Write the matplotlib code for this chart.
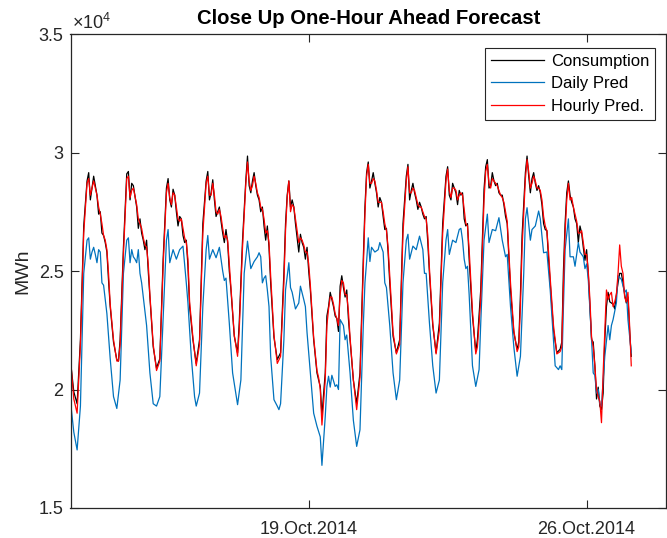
import matplotlib
matplotlib.use("Agg")
import matplotlib.pyplot as plt
import matplotlib.dates as mdates
from matplotlib.ticker import FixedLocator
from datetime import datetime, timedelta

plt.rcParams['font.family'] = ['Liberation Sans', 'DejaVu Sans']
plt.rcParams['mathtext.fontset'] = 'custom'
plt.rcParams['mathtext.rm'] = 'Liberation Sans'
plt.rcParams['mathtext.it'] = 'Liberation Sans:italic'

# ---------------- data (values in units of 1e4 MWh) ----------------
start_date = datetime(2014, 10, 13)

# hours since start for consumption and hourly prediction
hours_ch = [0, 2, 4, 6, 8, 10, 11, 12, 14, 16, 17, 18, 19, 20, 21, 22, 23,
            24, 26, 28, 29, 30, 32, 34, 35, 36, 37, 38, 40, 41, 42, 43, 44, 45, 46, 47,
            48, 50, 52, 54, 56, 58, 59, 60, 61, 62, 63, 64, 65, 66, 67, 68, 69, 70, 71,
            72, 74, 76, 78, 80, 82, 83, 84, 85, 86, 87, 88, 89, 90, 91, 92, 93, 94, 95,
            96, 97, 99, 101, 102, 104, 106, 107, 108, 109, 110, 111, 112, 113, 114, 115, 116, 117, 118, 119,
            120, 121, 123, 125, 127, 129, 130, 131, 132, 133, 134, 135, 136, 137, 138, 139, 140, 141, 142, 143,
            144, 145, 147, 149, 150, 151, 152, 154, 155, 156, 157, 158, 159, 160, 161, 162, 163, 164, 165, 166, 167,
            168, 169, 171, 173, 175, 177, 178, 179, 180, 181, 182, 183, 184, 185, 186, 187, 188, 189, 190, 191,
            192, 193, 195, 197, 199, 201, 203, 204, 205, 206, 207, 208, 209, 210, 211, 212, 213, 214, 215,
            216, 217, 219, 221, 223, 225, 227, 228, 229, 230, 231, 232, 233, 234, 235, 236, 237, 238, 239,
            240, 241, 243, 245, 246, 248, 250, 251, 252, 253, 254, 255, 256, 257, 258, 259, 260, 261, 262, 263,
            264, 266, 268, 270, 271, 272, 273, 275, 276, 277, 278, 279, 280, 281, 282, 283, 284, 285, 286, 287,
            288, 289, 290, 292, 294, 296, 297, 298, 299, 300, 301, 302, 303, 304, 305, 306, 307, 308, 309, 310, 311,
            312, 313, 314, 315, 316, 317, 318, 319, 320, 321, 322, 323, 324, 325, 326, 327, 328, 329, 330, 331,
            332, 333, 334, 335, 336, 337, 338, 339]

consumption = [2.12, 1.99, 1.94, 2.21, 2.69, 2.88, 2.915, 2.80, 2.90, 2.82, 2.74, 2.75, 2.66, 2.65, 2.62, 2.58, 2.46,
               2.35, 2.20, 2.126, 2.12, 2.21, 2.60, 2.91, 2.92, 2.80, 2.87, 2.86, 2.77, 2.68, 2.72, 2.66, 2.63, 2.59, 2.63, 2.50,
               2.39, 2.18, 2.09, 2.13, 2.55, 2.85, 2.89, 2.80, 2.77, 2.845, 2.82, 2.75, 2.69, 2.73, 2.72, 2.65, 2.62, 2.63, 2.52,
               2.35, 2.21, 2.11, 2.21, 2.70, 2.88, 2.92, 2.80, 2.83, 2.885, 2.80, 2.73, 2.75, 2.77, 2.71, 2.66, 2.62, 2.675, 2.62,
               2.50, 2.42, 2.225, 2.155, 2.28, 2.63, 2.885, 2.985, 2.86, 2.83, 2.88, 2.915, 2.86, 2.82, 2.80, 2.75, 2.77, 2.69, 2.63, 2.69,
               2.60, 2.45, 2.22, 2.126, 2.155, 2.49, 2.70, 2.82, 2.88, 2.77, 2.80, 2.77, 2.70, 2.64, 2.58, 2.655, 2.62, 2.60, 2.55, 2.60,
               2.50, 2.42, 2.21, 2.07, 2.04, 2.013, 1.89, 2.07, 2.31, 2.35, 2.41, 2.38, 2.35, 2.31, 2.30, 2.245, 2.436, 2.48, 2.43, 2.39, 2.42,
               2.30, 2.21, 2.04, 1.94, 2.07, 2.55, 2.77, 2.915, 2.96, 2.85, 2.88, 2.915, 2.87, 2.83, 2.77, 2.81, 2.79, 2.73, 2.675, 2.68,
               2.58, 2.45, 2.225, 2.155, 2.21, 2.70, 2.90, 2.95, 2.80, 2.84, 2.87, 2.83, 2.80, 2.76, 2.79, 2.77, 2.74, 2.72, 2.73,
               2.62, 2.49, 2.27, 2.155, 2.28, 2.70, 2.90, 2.94, 2.82, 2.80, 2.87, 2.85, 2.83, 2.78, 2.84, 2.82, 2.83, 2.72, 2.69,
               2.70, 2.55, 2.31, 2.16, 2.21, 2.42, 2.845, 2.94, 2.97, 2.85, 2.86, 2.915, 2.88, 2.86, 2.87, 2.83, 2.82, 2.82, 2.78, 2.73,
               2.70, 2.42, 2.24, 2.17, 2.20, 2.40, 2.65, 2.915, 2.985, 2.90, 2.83, 2.89, 2.915, 2.87, 2.84, 2.86, 2.83, 2.78, 2.70, 2.675,
               2.67, 2.55, 2.45, 2.25, 2.155, 2.17, 2.20, 2.50, 2.70, 2.83, 2.88, 2.82, 2.79, 2.77, 2.72, 2.70, 2.62, 2.69, 2.66, 2.60, 2.545,
               2.59, 2.49, 2.35, 2.21, 2.20, 2.10, 1.96, 2.01, 1.93, 1.915, 1.985, 2.21, 2.35, 2.41, 2.37, 2.365, 2.36, 2.34, 2.40, 2.45,
               2.49, 2.49, 2.45, 2.40, 2.365, 2.39, 2.25, 2.14]

hourly_pred = [2.13, 1.96, 1.90, 2.19, 2.66, 2.87, 2.89, 2.82, 2.88, 2.82, 2.77, 2.74, 2.70, 2.65, 2.63, 2.59, 2.49,
               2.36, 2.21, 2.12, 2.12, 2.19, 2.57, 2.89, 2.90, 2.81, 2.84, 2.85, 2.78, 2.72, 2.70, 2.68, 2.64, 2.61, 2.60, 2.53,
               2.40, 2.19, 2.08, 2.12, 2.52, 2.83, 2.87, 2.81, 2.78, 2.83, 2.82, 2.77, 2.72, 2.71, 2.72, 2.68, 2.64, 2.62, 2.55,
               2.37, 2.22, 2.10, 2.19, 2.66, 2.87, 2.90, 2.82, 2.82, 2.87, 2.82, 2.75, 2.74, 2.76, 2.73, 2.68, 2.64, 2.65, 2.63,
               2.53, 2.43, 2.23, 2.14, 2.25, 2.60, 2.87, 2.96, 2.88, 2.84, 2.86, 2.90, 2.87, 2.83, 2.81, 2.77, 2.76, 2.72, 2.66, 2.67,
               2.62, 2.48, 2.23, 2.11, 2.14, 2.45, 2.67, 2.81, 2.88, 2.75, 2.78, 2.77, 2.72, 2.67, 2.62, 2.64, 2.63, 2.61, 2.58, 2.58,
               2.53, 2.44, 2.22, 2.08, 2.05, 2.00, 1.85, 2.04, 2.27, 2.34, 2.39, 2.39, 2.36, 2.32, 2.30, 2.27, 2.40, 2.46, 2.45, 2.40, 2.40,
               2.33, 2.22, 2.04, 1.915, 2.05, 2.50, 2.74, 2.90, 2.95, 2.87, 2.87, 2.89, 2.88, 2.84, 2.79, 2.79, 2.79, 2.75, 2.70, 2.67,
               2.60, 2.48, 2.24, 2.15, 2.19, 2.66, 2.88, 2.94, 2.83, 2.83, 2.85, 2.84, 2.81, 2.78, 2.77, 2.77, 2.75, 2.73, 2.72,
               2.65, 2.51, 2.28, 2.15, 2.25, 2.66, 2.88, 2.93, 2.84, 2.81, 2.85, 2.85, 2.84, 2.80, 2.82, 2.83, 2.82, 2.76, 2.70,
               2.69, 2.59, 2.33, 2.15, 2.18, 2.38, 2.80, 2.92, 2.95, 2.87, 2.85, 2.89, 2.88, 2.87, 2.86, 2.84, 2.82, 2.81, 2.79, 2.75,
               2.71, 2.45, 2.25, 2.16, 2.18, 2.35, 2.60, 2.89, 2.97, 2.92, 2.85, 2.87, 2.90, 2.88, 2.85, 2.85, 2.84, 2.80, 2.73, 2.69,
               2.67, 2.58, 2.47, 2.27, 2.15, 2.16, 2.18, 2.44, 2.66, 2.80, 2.87, 2.80, 2.81, 2.77, 2.74, 2.71, 2.66, 2.66, 2.67, 2.62, 2.57,
               2.57, 2.50, 2.38, 2.22, 2.18, 2.10, 2.00, 1.97, 1.95, 1.86, 2.07, 2.25, 2.42, 2.38, 2.40, 2.41, 2.35, 2.37, 2.40, 2.49,
               2.61, 2.52, 2.49, 2.39, 2.37, 2.41, 2.27, 2.10]

# hours since start for the daily prediction
hours_daily = [0, 2, 4, 6, 8, 10, 11, 12, 13, 14, 15, 16, 17, 18, 19, 20, 22,
               24, 26, 28, 30, 32, 34, 35, 36, 37, 38, 39, 40, 41, 42, 43, 44, 46,
               48, 50, 52, 54, 56, 58, 59, 60, 62, 64, 66, 68, 70, 71,
               73, 75, 76, 78, 80, 82, 83, 84, 86, 88, 90, 92, 93, 94,
               96, 98, 101, 103, 105, 107, 109, 111, 113, 114, 115, 116, 117, 118, 119,
               120, 121, 123, 125, 126, 127, 129, 130, 132, 133, 134, 136, 138, 139, 141, 142, 143,
               145, 147, 149, 151, 152, 154, 155, 156, 157, 158, 160, 161, 162, 163, 165, 166, 167,
               169, 171, 173, 175, 177, 178, 179, 180, 181, 182, 184, 186, 187, 189, 190, 191,
               193, 195, 197, 199, 201, 203, 204, 205, 207, 209, 211, 213, 214, 215,
               217, 219, 221, 223, 225, 227, 228, 229, 231, 233, 235, 236, 237, 238, 239,
               240, 241, 243, 245, 247, 248, 250, 252, 253, 255, 257, 259, 261, 263,
               264, 266, 268, 270, 272, 274, 275, 276, 278, 279, 281, 283, 284, 286,
               288, 290, 292, 293, 295, 296, 297, 298, 299, 301, 302, 304, 305, 307, 308, 310, 311,
               312, 313, 315, 316, 317, 318, 319, 320, 321, 322, 323, 325, 326, 327, 328, 330, 331,
               333, 335, 336, 337, 339]

daily_pred = [1.95, 1.82, 1.745, 1.93, 2.49, 2.63, 2.64, 2.55, 2.58, 2.60, 2.57, 2.535, 2.59, 2.58, 2.45, 2.44, 2.32,
              2.13, 1.97, 1.92, 2.04, 2.49, 2.63, 2.64, 2.535, 2.59, 2.56, 2.55, 2.535, 2.59, 2.49, 2.45, 2.39, 2.27,
              2.07, 1.94, 1.93, 1.97, 2.30, 2.63, 2.675, 2.535, 2.59, 2.55, 2.59, 2.605, 2.45, 2.365,
              2.14, 1.97, 1.93, 1.985, 2.35, 2.59, 2.65, 2.55, 2.59, 2.556, 2.60, 2.50, 2.46, 2.47,
              2.28, 2.07, 1.936, 2.04, 2.49, 2.626, 2.51, 2.54, 2.56, 2.577, 2.56, 2.45, 2.47, 2.48, 2.42,
              2.35, 2.14, 1.957, 1.93, 1.915, 1.94, 2.21, 2.42, 2.535, 2.43, 2.41, 2.34, 2.365, 2.436, 2.38, 2.35, 2.24,
              2.07, 1.90, 1.845, 1.80, 1.68, 1.886, 2.013, 2.056, 2.01, 2.06, 2.013, 2.02, 2.00, 2.295, 2.27, 2.21, 2.23,
              2.07, 1.87, 1.76, 1.83, 2.27, 2.45, 2.54, 2.64, 2.54, 2.60, 2.58, 2.59, 2.62, 2.58, 2.45, 2.43,
              2.27, 2.07, 1.957, 2.04, 2.45, 2.63, 2.655, 2.55, 2.605, 2.59, 2.647, 2.59, 2.49, 2.49,
              2.28, 2.10, 1.985, 2.04, 2.45, 2.63, 2.675, 2.57, 2.63, 2.62, 2.675, 2.68, 2.63, 2.55, 2.51,
              2.52, 2.40, 2.10, 2.013, 2.084, 2.28, 2.63, 2.74, 2.62, 2.675, 2.67, 2.725, 2.63, 2.56,
              2.57, 2.35, 2.18, 2.056, 2.14, 2.49, 2.72, 2.767, 2.63, 2.675, 2.69, 2.753, 2.72, 2.577,
              2.58, 2.42, 2.21, 2.10, 2.084, 2.10, 2.084, 2.35, 2.59, 2.72, 2.56, 2.56, 2.52, 2.62, 2.58, 2.56, 2.51,
              2.53, 2.465, 2.21, 2.07, 2.06, 1.985, 2.00, 1.94, 1.93, 2.04, 2.14, 2.27, 2.21, 2.27, 2.295, 2.365, 2.48,
              2.465, 2.41, 2.42, 2.295, 2.155]

tick_dates = [datetime(2014, 10, 19), datetime(2014, 10, 26)]
tick_labels = ['19.Oct.2014', '26.Oct.2014']
y_ticks = [1.5, 2, 2.5, 3, 3.5]
y_tick_labels = ['1.5', '2', '2.5', '3', '3.5']

# ---------------- figure ----------------
W, H = 667, 538
fig = plt.figure(figsize=(W / 100, H / 100), dpi=100)
ax = fig.add_axes([70.5 / W, 1 - 508 / H, (666 - 70.5) / W, (508 - 34) / H])

t_ch = [start_date + timedelta(hours=h) for h in hours_ch]
t_daily = [start_date + timedelta(hours=h) for h in hours_daily]

ax.plot(t_ch, consumption, color='black', lw=0.9, label='Consumption')
ax.plot(t_daily, daily_pred, color='#0072BD', lw=0.9, label='Daily Pred')
ax.plot(t_ch, hourly_pred, color='#FF0000', lw=0.9, label='Hourly Pred.')

ax.set_xlim(start_date, datetime(2014, 10, 28))
ax.set_ylim(1.5, 3.5)
ax.xaxis.set_major_locator(FixedLocator(mdates.date2num(tick_dates)))
ax.set_xticklabels(tick_labels)
ax.set_yticks(y_ticks)
ax.set_yticklabels(y_tick_labels)

axcol = '#262626'
for s in ax.spines.values():
    s.set_color(axcol)
    s.set_linewidth(0.9)
ax.tick_params(direction='in', length=6, width=0.8, color=axcol, labelcolor=axcol,
               labelsize=13, top=True, right=True)
ax.tick_params(axis='y', pad=5)
ax.tick_params(axis='x', pad=9)

ax.set_ylabel('MWh', fontsize=14, color=axcol, labelpad=5)
ax.set_title('Close Up One-Hour Ahead Forecast', fontsize=14.6, fontweight='bold', pad=7)
ax.text(0.003, 1.003, r'$\times10^{4}$', transform=ax.transAxes, ha='left', va='bottom',
        fontsize=13, color=axcol)

leg = ax.legend(loc='upper right', bbox_to_anchor=(655 / W, 1 - 48 / H),
                bbox_transform=fig.transFigure, borderaxespad=0,
                fontsize=12, frameon=True, fancybox=False,
                edgecolor=axcol, framealpha=1, handlelength=3.2,
                labelspacing=0.45, handletextpad=0.4, borderpad=0.35)
leg.get_frame().set_linewidth(0.8)

fig.savefig('out.png', dpi=100)
